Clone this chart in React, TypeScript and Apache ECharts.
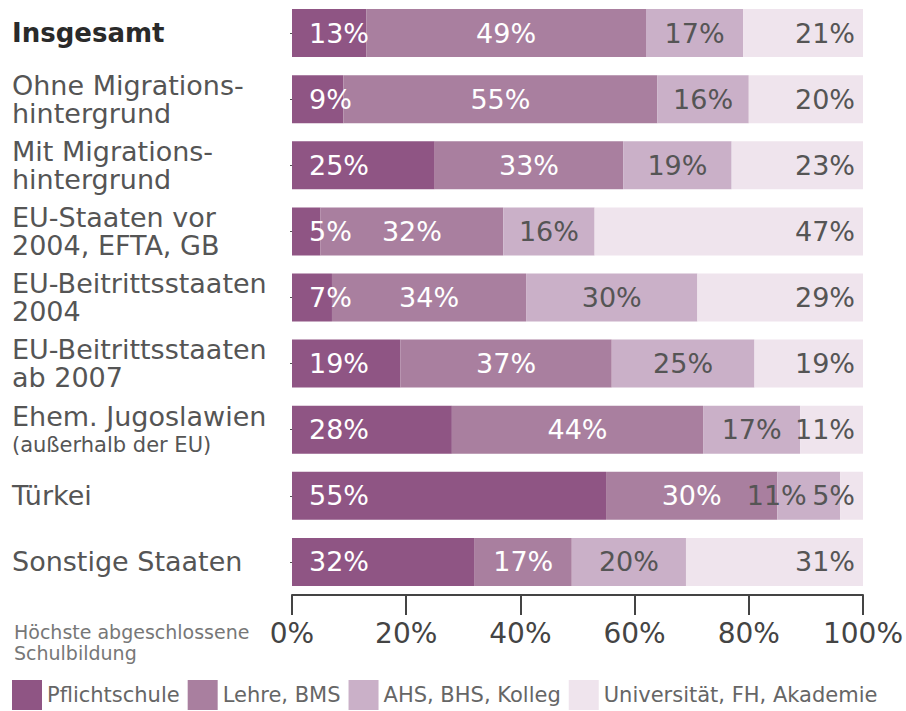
import React, { useEffect, useRef } from "react";
import * as echarts from "echarts";

const categories = [
  "Insgesamt",
  "Ohne Migrations-\nhintergrund",
  "Mit Migrations-\nhintergrund",
  "EU-Staaten vor\n2004, EFTA, GB",
  "EU-Beitrittsstaaten\n2004",
  "EU-Beitrittsstaaten\nab 2007",
  "Ehem. Jugoslawien\n(außerhalb der EU)",
  "Türkei",
  "Sonstige Staaten",
];

const seriesNames = ["Pflichtschule", "Lehre, BMS", "AHS, BHS, Kolleg", "Universität, FH, Akademie"];

const pflichtschule = [13, 9, 25, 5, 7, 19, 28, 55, 32];
const lehreBms = [49, 55, 33, 32, 34, 37, 44, 30, 17];
const ahsBhsKolleg = [17, 16, 19, 16, 30, 25, 17, 11, 20];
const universitaet = [21, 20, 23, 47, 29, 19, 11, 5, 31];

const xTicks = [0, 20, 40, 60, 80, 100];

const colors = ["#8f5584", "#a97f9f", "#cab0c8", "#efe4ed"];
const labelColors = ["#ffffff", "#ffffff", "#555555", "#555555"];
const FONT = "DejaVu Sans";

export default function App() {
  const ref = useRef<HTMLDivElement>(null);
  useEffect(() => {
    document.body.style.margin = "0";
    if (!ref.current) return;
    const chart = echarts.init(ref.current, null, { renderer: "svg" });
    const values = [pflichtschule, lehreBms, ahsBhsKolleg, universitaet];
    const positions = ["insideLeft", "inside", "inside", "insideRight"];
    const series = values.map((vals, si) => ({
      name: seriesNames[si],
      type: "bar",
      stack: "total",
      barWidth: 48,
      itemStyle: { color: colors[si] },
      label: {
        show: true,
        position: positions[si],
        distance: si === 0 ? 17 : 8,
        formatter: (p: any) => `${p.value}%`,
        color: labelColors[si],
        fontFamily: FONT,
        fontSize: 27,
      },
      data: vals.map((v, ci) => {
        if (si === 2 && categories[ci] === "Türkei") {
          return { value: v, label: { offset: [-32, 0] } };
        }
        return v;
      }),
    }));

    chart.setOption({
      animation: false,
      textStyle: { fontFamily: FONT },
      grid: { left: 292, right: 39, top: 0, bottom: 116, containLabel: false },
      xAxis: {
        type: "value",
        min: 0,
        max: 100,
        interval: 20,
        position: "bottom",
        axisLine: { show: true, lineStyle: { color: "#444", width: 2 } },
        axisTick: { show: true, length: 20, lineStyle: { color: "#444", width: 2 } },
        splitLine: { show: false },
        axisLabel: {
          margin: 24,
          fontSize: 28,
          color: "#444",
          fontFamily: FONT,
          formatter: (v: number) => (xTicks.includes(v) ? `${v}%` : ""),
        },
      },
      yAxis: {
        type: "category",
        inverse: true,
        data: categories,
        axisLine: { show: false },
        axisTick: { show: true, alignWithLabel: true, length: 2, lineStyle: { color: "#555" } },
        axisLabel: {
          align: "left",
          margin: 280,
          fontSize: 27,
          lineHeight: 28,
          color: "#555",
          fontFamily: FONT,
          formatter: (v: string) => {
            if (v === "Insgesamt") return `{b|${v}}`;
            if (v.indexOf("(außerhalb") >= 0) {
              const [a, b] = v.split("\n");
              return `{n|${a}}\n{s|${b}}`;
            }
            return v;
          },
          rich: {
            b: { fontSize: 26, fontWeight: "bold", color: "#2a2a2a", fontFamily: FONT },
            n: { fontSize: 27, lineHeight: 30, color: "#555", fontFamily: FONT },
            s: { fontSize: 21, lineHeight: 26, color: "#555", fontFamily: FONT },
          },
        },
      },
      legend: {
        left: 12,
        top: 680,
        padding: 0,
        icon: "rect",
        itemWidth: 30,
        itemHeight: 30,
        itemGap: 8,
        selectedMode: false,
        data: seriesNames,
        textStyle: { fontSize: 21, color: "#666", fontFamily: FONT },
      },
      graphic: [
        {
          type: "text",
          left: 14,
          top: 621,
          style: {
            text: "Höchste abgeschlossene\nSchulbildung",
            fontSize: 19,
            lineHeight: 21,
            fill: "#777",
            fontFamily: FONT,
          },
        },
      ],
      series,
    });
    return () => chart.dispose();
  }, []);
  return <div ref={ref} style={{ width: 906, height: 711 }} />;
}
